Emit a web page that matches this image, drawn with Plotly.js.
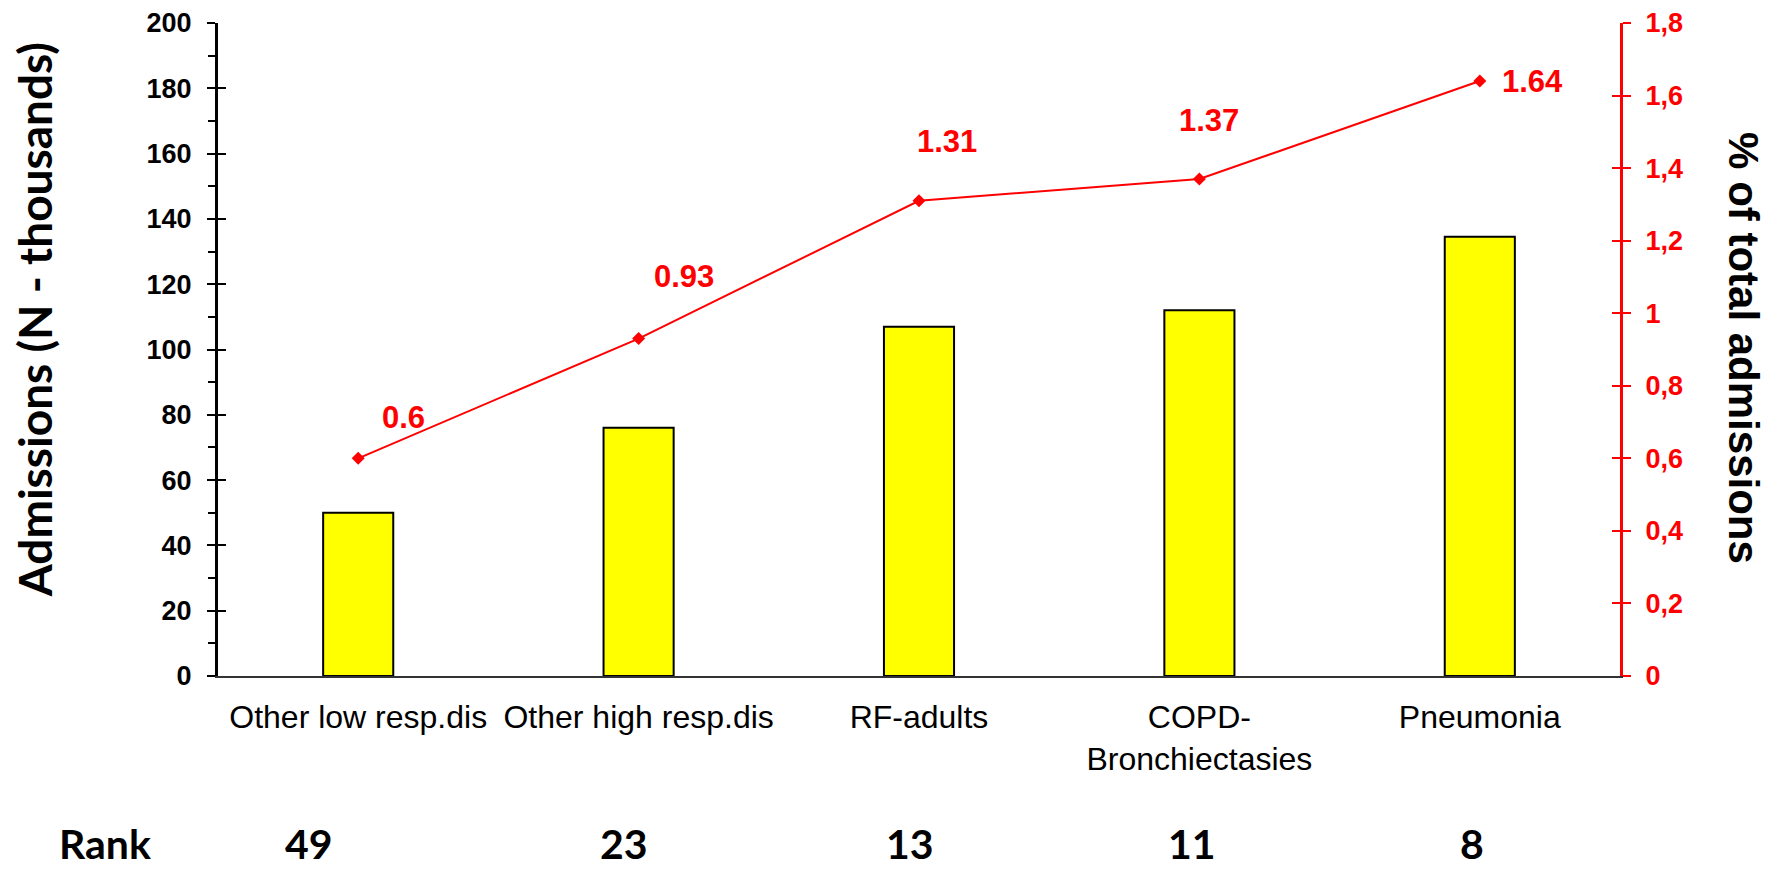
<!DOCTYPE html>
<html>
<head>
<meta charset="utf-8">
<script src="https://cdn.plot.ly/plotly-3.0.1.min.js"></script>
<style>
  html, body { margin: 0; padding: 0; background: #ffffff; }
  #chart { width: 1785px; height: 871px; }
</style>
</head>
<body>
<div id="chart"></div>
<script>
// Respiratory diagnoses: admissions (thousands) and share of all admissions
const categories = ['Other low resp.dis', 'Other high resp.dis', 'RF-adults', 'COPD-<br>Bronchiectasies', 'Pneumonia'];
const admissions = [50, 76, 107, 112, 134.5];
const pctTotal = [0.6, 0.93, 1.31, 1.37, 1.64];
const ranks = [49, 23, 13, 11, 8];
const pctLabels = ['0.6', '0.93', '1.31', '1.37', '1.64'];

// label placement offsets (px) relative to each line point / category centre
const pctLabelShift = [[45, 41], [45, 62], [28, 59], [10, 58], [53, 0]];
const rankShift = [-49, -15, -9, -7, -8];

const RED = '#ff0000';
const ARIAL = 'Liberation Sans, Arial, sans-serif';
const CALIBRI = 'Lato, Carlito, sans-serif';

const bars = {
  type: 'bar',
  x: categories,
  y: admissions,
  width: 0.25,
  marker: { color: '#ffff00', line: { color: '#000000', width: 2 } },
  hoverinfo: 'x+y',
  yaxis: 'y'
};

const line = {
  type: 'scatter',
  mode: 'lines+markers',
  x: categories,
  y: pctTotal,
  yaxis: 'y2',
  line: { color: RED, width: 2 },
  marker: { symbol: 'diamond', size: 10, color: RED },
  hoverinfo: 'x+y'
};

const RANK_Y = -0.297;

const annotations = [];
pctTotal.forEach((v, i) => {
  annotations.push({
    x: categories[i], y: v, xref: 'x', yref: 'y2',
    text: pctLabels[i], showarrow: false,
    xanchor: 'center', yanchor: 'middle',
    xshift: pctLabelShift[i][0], yshift: pctLabelShift[i][1],
    font: { family: ARIAL, size: 31, color: RED, weight: 700 }
  });
});
ranks.forEach((r, i) => {
  annotations.push({
    x: categories[i], y: RANK_Y, xref: 'x', yref: 'paper',
    text: String(r), showarrow: false,
    xanchor: 'center', yanchor: 'bottom', xshift: rankShift[i],
    font: { family: CALIBRI, size: 41, color: '#000000', weight: 700 }
  });
});
annotations.push({
  x: -0.0806, y: RANK_Y, xref: 'paper', yref: 'paper',
  text: 'Rank', showarrow: false, xanchor: 'center', yanchor: 'bottom',
  font: { family: CALIBRI, size: 41, color: '#000000', weight: 700 }
});
annotations.push({
  x: -0.1312, y: 0.545, xref: 'paper', yref: 'paper',
  text: 'Admissions (N - thousands)', showarrow: false, textangle: -90,
  xanchor: 'center', yanchor: 'middle',
  font: { family: CALIBRI, size: 46, color: '#000000', weight: 700 }
});
annotations.push({
  x: 1.0885, y: 0.502, xref: 'paper', yref: 'paper',
  text: '% of total admissions', showarrow: false, textangle: 90,
  xanchor: 'center', yanchor: 'middle',
  font: { family: ARIAL, size: 42, color: '#000000', weight: 700 }
});

const layout = {
  width: 1785, height: 871,
  margin: { l: 218, r: 165, t: 23, b: 195 },
  paper_bgcolor: '#ffffff', plot_bgcolor: '#ffffff',
  showlegend: false,
  separators: ', ',
  xaxis: {
    type: 'category', range: [-0.5, 4.5],
    showline: true, linecolor: '#333333', linewidth: 2,
    ticks: '', showgrid: false, zeroline: false,
    tickfont: { family: ARIAL, size: 32, color: '#000000' },
    ticklabelstandoff: 12
  },
  yaxis: {
    range: [0, 200], dtick: 20, tick0: 0,
    showline: true, linecolor: '#000000', linewidth: 3,
    ticks: 'outside', ticklen: 8, tickwidth: 2, tickcolor: '#000000',
    minor: { dtick: 10, ticks: 'outside', ticklen: 7, tickwidth: 2, tickcolor: '#000000' },
    showgrid: false, zeroline: false,
    tickfont: { family: ARIAL, size: 27, color: '#000000', weight: 700 },
    ticklabelstandoff: 10
  },
  yaxis2: {
    range: [0, 1.8], dtick: 0.2, tick0: 0,
    overlaying: 'y', side: 'right', anchor: 'x',
    showline: true, linecolor: RED, linewidth: 3,
    ticks: 'outside', ticklen: 8, tickwidth: 2, tickcolor: RED,
    showgrid: false, zeroline: false,
    tickfont: { family: ARIAL, size: 27, color: RED, weight: 700 },
    ticklabelstandoff: 9
  },
  // inner halves of the major tick marks on both value axes
  yaxis3: {
    range: [0, 200], dtick: 20, tick0: 0,
    overlaying: 'y', side: 'left', anchor: 'x',
    showline: false, ticks: 'inside', ticklen: 8, tickwidth: 2, tickcolor: '#000000',
    showticklabels: false, showgrid: false, zeroline: false
  },
  yaxis4: {
    range: [0, 1.8], dtick: 0.2, tick0: 0,
    overlaying: 'y', side: 'right', anchor: 'x',
    showline: false, ticks: 'inside', ticklen: 8, tickwidth: 2, tickcolor: RED,
    showticklabels: false, showgrid: false, zeroline: false
  },
  annotations: annotations
};

// invisible carriers so the tick-only overlay axes are drawn
const carrier3 = { type: 'scatter', x: [categories[0]], y: [0], yaxis: 'y3', mode: 'markers', marker: { opacity: 0 }, hoverinfo: 'skip' };
const carrier4 = { type: 'scatter', x: [categories[0]], y: [0], yaxis: 'y4', mode: 'markers', marker: { opacity: 0 }, hoverinfo: 'skip' };

Plotly.newPlot('chart', [bars, line, carrier3, carrier4], layout, { displayModeBar: false, staticPlot: true });
</script>
</body>
</html>
